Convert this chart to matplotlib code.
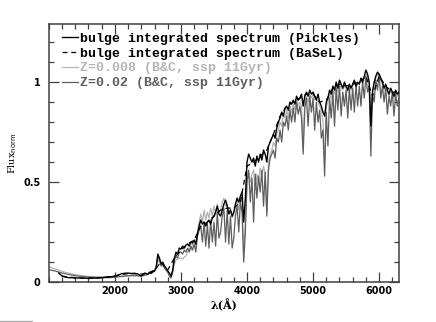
import numpy as np
import matplotlib
matplotlib.use("Agg")
import matplotlib.pyplot as plt
from matplotlib.ticker import MultipleLocator, FixedLocator
from matplotlib.lines import Line2D

# wavelength grids (A)
lam_p_uv = np.arange(1150, 2500, 50)
lam_opt = np.arange(2500, 6301, 25)
lam_m_uv = np.arange(1000, 2500, 100)
lam_basel = np.arange(1200, 6301, 100)

# bulge integrated spectrum (Pickles)
pickles_uv = [0.045, 0.030, 0.025, 0.022, 0.022, 0.020, 0.021, 0.019, 0.020,
              0.018, 0.019, 0.020, 0.020, 0.022, 0.024, 0.025, 0.027, 0.030,
              0.035, 0.042, 0.044, 0.045, 0.043, 0.044, 0.040, 0.030, 0.045]
pickles_opt = [0.040, 0.048, 0.045, 0.052, 0.055, 0.070, 0.140, 0.120,
               0.090, 0.100, 0.080, 0.070, 0.055, 0.045, 0.030, 0.060,
               0.120, 0.150, 0.140, 0.170, 0.165, 0.180, 0.170, 0.185,
               0.190, 0.180, 0.200, 0.195, 0.210, 0.190, 0.240, 0.280,
               0.310, 0.290, 0.300, 0.280, 0.300, 0.310, 0.290, 0.320,
               0.330, 0.350, 0.380, 0.340, 0.330, 0.360, 0.390, 0.410,
               0.380, 0.340, 0.360, 0.330, 0.350, 0.390, 0.420, 0.400,
               0.430, 0.450, 0.300, 0.420, 0.600, 0.640, 0.620, 0.600,
               0.620, 0.580, 0.630, 0.600, 0.640, 0.610, 0.660, 0.640,
               0.600, 0.680, 0.700, 0.720, 0.740, 0.720, 0.770, 0.800,
               0.820, 0.850, 0.830, 0.870, 0.880, 0.860, 0.900, 0.890,
               0.910, 0.890, 0.930, 0.910, 0.920, 0.940, 0.880, 0.930,
               0.950, 0.930, 0.960, 0.940, 0.950, 0.930, 0.910, 0.940,
               0.900, 0.880, 0.850, 0.830, 0.900, 0.920, 0.960, 0.940,
               0.980, 0.960, 1.000, 0.970, 1.010, 0.990, 0.970, 1.000,
               0.980, 0.960, 0.990, 0.970, 0.990, 1.010, 0.980, 1.000,
               0.990, 1.020, 1.000, 1.030, 1.060, 1.040, 1.000, 0.780,
               0.950, 1.000, 1.030, 1.050, 1.040, 1.020, 1.000, 0.970,
               0.990, 0.960, 0.940, 0.970, 0.950, 0.930, 0.960, 0.940,
               0.950]

# bulge integrated spectrum (BaSeL)
basel = [0.030, 0.025, 0.022, 0.020, 0.020, 0.021, 0.023, 0.026, 0.030,
         0.038, 0.042, 0.042, 0.040, 0.045, 0.060, 0.100, 0.060, 0.120,
         0.160, 0.190, 0.210, 0.280, 0.300, 0.330, 0.360, 0.370, 0.370,
         0.400, 0.580, 0.600, 0.630, 0.660, 0.740, 0.830, 0.880, 0.900,
         0.920, 0.940, 0.940, 0.900, 0.910, 0.970, 0.990, 0.980, 0.990,
         1.000, 1.030, 0.930, 1.030, 0.980, 0.950, 0.950]

# Z=0.008 (B&C, ssp 11Gyr)
z008_uv = [0.077, 0.065, 0.053, 0.045, 0.037, 0.032, 0.029, 0.027, 0.026,
           0.026, 0.027, 0.030, 0.033, 0.034, 0.032]
z008_opt = [0.040, 0.050, 0.045, 0.055, 0.060, 0.080, 0.110, 0.100,
            0.085, 0.080, 0.075, 0.065, 0.055, 0.040, 0.035, 0.055,
            0.090, 0.110, 0.115, 0.120, 0.120, 0.115, 0.125, 0.130,
            0.150, 0.170, 0.160, 0.190, 0.210, 0.180, 0.250, 0.300,
            0.340, 0.300, 0.360, 0.310, 0.350, 0.320, 0.370, 0.330,
            0.380, 0.340, 0.390, 0.350, 0.360, 0.400, 0.420, 0.380,
            0.390, 0.350, 0.370, 0.320, 0.340, 0.380, 0.410, 0.360,
            0.420, 0.400, 0.150, 0.300, 0.520, 0.550, 0.500, 0.540,
            0.560, 0.460, 0.540, 0.500, 0.570, 0.530, 0.580, 0.540,
            0.350, 0.600, 0.640, 0.660, 0.700, 0.680, 0.740, 0.760,
            0.800, 0.780, 0.840, 0.820, 0.860, 0.820, 0.880, 0.850,
            0.890, 0.860, 0.910, 0.880, 0.900, 0.880, 0.700, 0.900,
            0.930, 0.900, 0.940, 0.920, 0.940, 0.910, 0.920, 0.900,
            0.880, 0.860, 0.800, 0.600, 0.880, 0.900, 0.940, 0.920,
            0.960, 0.940, 0.980, 0.950, 0.990, 0.970, 0.960, 0.980,
            0.970, 0.950, 0.980, 0.960, 0.980, 1.000, 0.970, 0.990,
            0.990, 1.010, 0.990, 1.020, 1.040, 1.030, 0.990, 0.800,
            0.960, 1.000, 1.020, 1.040, 1.030, 1.010, 0.990, 0.960,
            0.980, 0.950, 0.930, 0.960, 0.940, 0.920, 0.950, 0.930,
            0.940]

# Z=0.02 (B&C, ssp 11Gyr)
z02_uv = [0.062, 0.055, 0.045, 0.038, 0.032, 0.028, 0.025, 0.023, 0.022,
          0.022, 0.024, 0.028, 0.031, 0.032, 0.030]
z02_opt = [0.038, 0.045, 0.042, 0.050, 0.055, 0.075, 0.130, 0.110,
           0.080, 0.090, 0.070, 0.060, 0.050, 0.030, 0.020, 0.050,
           0.110, 0.130, 0.120, 0.150, 0.150, 0.140, 0.160, 0.150,
           0.170, 0.150, 0.180, 0.160, 0.190, 0.150, 0.230, 0.260,
           0.280, 0.200, 0.300, 0.180, 0.290, 0.170, 0.310, 0.200,
           0.300, 0.180, 0.350, 0.220, 0.250, 0.330, 0.370, 0.200,
           0.360, 0.190, 0.330, 0.170, 0.220, 0.330, 0.380, 0.250,
           0.400, 0.350, 0.100, 0.250, 0.500, 0.560, 0.400, 0.520,
           0.300, 0.540, 0.420, 0.530, 0.450, 0.560, 0.380, 0.550,
           0.330, 0.560, 0.620, 0.640, 0.660, 0.620, 0.720, 0.700,
           0.760, 0.700, 0.800, 0.780, 0.830, 0.760, 0.860, 0.800,
           0.870, 0.800, 0.900, 0.840, 0.880, 0.820, 0.640, 0.870,
           0.920, 0.780, 0.930, 0.850, 0.920, 0.760, 0.900, 0.800,
           0.860, 0.720, 0.760, 0.530, 0.850, 0.680, 0.920, 0.820,
           0.950, 0.780, 0.970, 0.860, 0.980, 0.830, 0.950, 0.880,
           0.960, 0.820, 0.970, 0.860, 0.970, 0.850, 0.990, 0.880,
           0.980, 0.880, 1.000, 0.920, 1.030, 0.950, 0.980, 0.630,
           0.940, 0.900, 1.010, 0.960, 1.040, 0.920, 0.980, 0.900,
           0.970, 0.840, 0.930, 0.880, 0.950, 0.830, 0.940, 0.880,
           0.930]

labels = ["bulge integrated spectrum (Pickles)",
          "bulge integrated spectrum (BaSeL)",
          "Z=0.008 (B&C, ssp 11Gyr)",
          "Z=0.02 (B&C, ssp 11Gyr)"]

lam_p = np.concatenate([lam_p_uv, lam_opt])
lam_m = np.concatenate([lam_m_uv, lam_opt])

fig = plt.figure(figsize=(4.36, 3.22), dpi=100)
ax = fig.add_axes([0.112, 0.124, 0.803, 0.801])

ax.plot(lam_m, z008_uv + z008_opt, color="#b4b4b4", lw=0.9, label=labels[2], zorder=2)
ax.plot(lam_m, z02_uv + z02_opt, color="#5e5e5e", lw=0.9, label=labels[3], zorder=3)
ax.plot(lam_basel, basel, color="black", lw=0.9, ls=(0, (4, 3)), label=labels[1], zorder=4)
ax.plot(lam_p, pickles_uv + pickles_opt, color="black", lw=1.0, label=labels[0], zorder=5)

ax.set_xlim(1000, 6300)
ax.set_ylim(0, 1.29)
ax.xaxis.set_major_locator(FixedLocator([2000, 3000, 4000, 5000, 6000]))
ax.xaxis.set_minor_locator(MultipleLocator(200))
ax.yaxis.set_major_locator(FixedLocator([0, 0.5, 1]))
ax.yaxis.set_minor_locator(MultipleLocator(0.1))
ax.set_yticklabels(["0", "0.5", "1"])
ax.tick_params(which="both", direction="in", top=True, right=True,
               color="#404040", width=0.9)
ax.tick_params(which="major", length=7, labelsize=7)
ax.tick_params(axis="y", which="major", pad=6)
ax.tick_params(axis="x", which="major", pad=3)
ax.tick_params(which="minor", length=3.5)
for lab in ax.get_xticklabels() + ax.get_yticklabels():
    lab.set_fontweight("bold")
for sp in ax.spines.values():
    sp.set_color("#404040")
    sp.set_linewidth(1.1)

ax.set_xlabel("λ(Å)", fontsize=8, fontfamily="DejaVu Serif", fontweight="bold", labelpad=2)
ax.set_ylabel(r"Flux$_{\rm norm}$", fontsize=7, fontfamily="DejaVu Serif", labelpad=3)

handles, labs = ax.get_legend_handles_labels()
order = [3, 2, 0, 1]
leg = ax.legend([handles[i] for i in order], [labs[i] for i in order],
                loc="upper left", bbox_to_anchor=(0.03, 0.978), frameon=False,
                prop={"family": "Liberation Mono", "weight": "bold", "size": 9.5},
                handlelength=1.25, handletextpad=0.15, labelspacing=0.2,
                borderpad=0.2, borderaxespad=0.0, labelcolor="linecolor")

# small stray line in the lower left corner of the original
fig.add_artist(Line2D([0.0, 0.073], [0.003, 0.003], color="#b0b0b0", lw=1.0))

fig.savefig("out.png", dpi=100)
